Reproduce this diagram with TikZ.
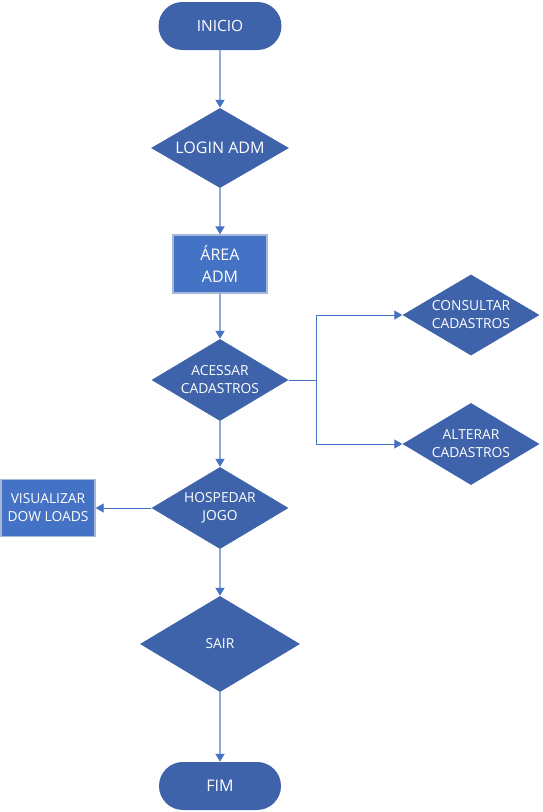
\documentclass[tikz,border=0pt]{standalone}
\usepackage{fontspec}
\setmainfont{Open Sans}
\usetikzlibrary{shapes.geometric,arrows.meta}

\definecolor{shapeblue}{HTML}{3E63AA}
\definecolor{boxblue}{HTML}{4472C4}
\definecolor{boxedge}{HTML}{A7B7D8}
\definecolor{linkblue}{HTML}{8FAADC}
\definecolor{tipblue}{HTML}{4472C4}

\tikzset{
  terminal/.style={rectangle, rounded corners=24pt, fill=shapeblue, draw=none,
    text=white, minimum width=123pt, minimum height=48pt, inner sep=0pt,
    font=\fontsize{15.5}{19}\selectfont},
  decision/.style={diamond, fill=shapeblue, draw=none, text=white, inner sep=0pt,
    align=center, shape aspect=1.67, font=\fontsize{13.8}{18}\selectfont},
  process/.style={rectangle, fill=boxblue, draw=boxedge, line width=1.3pt,
    text=white, inner sep=0pt, align=center},
  flow/.style={draw=linkblue, line width=1.8pt,
    -{Triangle[length=8pt,width=9pt,color=tipblue,fill=tipblue]}},
  branch/.style={draw=tipblue, line width=1pt,
    -{Triangle[length=8pt,width=9pt,color=tipblue,fill=tipblue]}},
}

\begin{document}
\begin{tikzpicture}[x=1pt,y=-1pt]
  \useasboundingbox (0,0) rectangle (542,812);
  \fill[white] (0,0) rectangle (542,812);

  \node[terminal] (inicio) at (220,26) {INICIO};
  \node[decision, minimum width=138pt, minimum height=80pt,
        font=\fontsize{16}{20}\selectfont] (login) at (220,148) {LOGIN ADM};
  \node[process, minimum width=94pt, minimum height=58pt,
        font=\fontsize{16}{21.5}\selectfont] (area) at (220,264) {ÁREA\\ADM};
  \node[decision, minimum width=137pt, minimum height=82pt] (acessar) at (220,380) {ACESSAR\\CADASTROS};
  \node[decision, minimum width=137pt, minimum height=81pt] (consultar) at (471,315) {CONSULTAR\\CADASTROS};
  \node[decision, minimum width=137pt, minimum height=82pt] (alterar) at (471,444) {ALTERAR\\CADASTROS};
  \node[decision, minimum width=137pt, minimum height=82pt] (hospedar) at (220,508) {HOSPEDAR\\JOGO};
  \node[process, minimum width=94pt, minimum height=57pt,
        font=\fontsize{13.8}{18}\selectfont] (visualizar) at (48,508) {VISUALIZAR\\DOW LOADS};
  \node[decision, minimum width=160pt, minimum height=96pt] (sair) at (220,644) {SAIR};
  \node[terminal, minimum width=122pt, font=\fontsize{16}{20}\selectfont] (fim) at (220,786) {FIM};

  % main vertical flow
  \draw[flow] (inicio) -- (login);
  \draw[flow] (login) -- (area);
  \draw[flow] (area) -- (acessar);
  \draw[flow] (acessar) -- (hospedar);
  \draw[flow] (hospedar) -- (sair);
  \draw[flow] (sair) -- (fim);

  % branch to the record options
  \coordinate (split) at (316,380);
  \draw[draw=tipblue, line width=1pt] (acessar.east) -- (split);
  \draw[branch] (split) |- (consultar.west);
  \draw[branch] (split) |- (alterar.west);

  % side output
  \draw[branch] (hospedar.west) -- (visualizar.east);
\end{tikzpicture}
\end{document}
